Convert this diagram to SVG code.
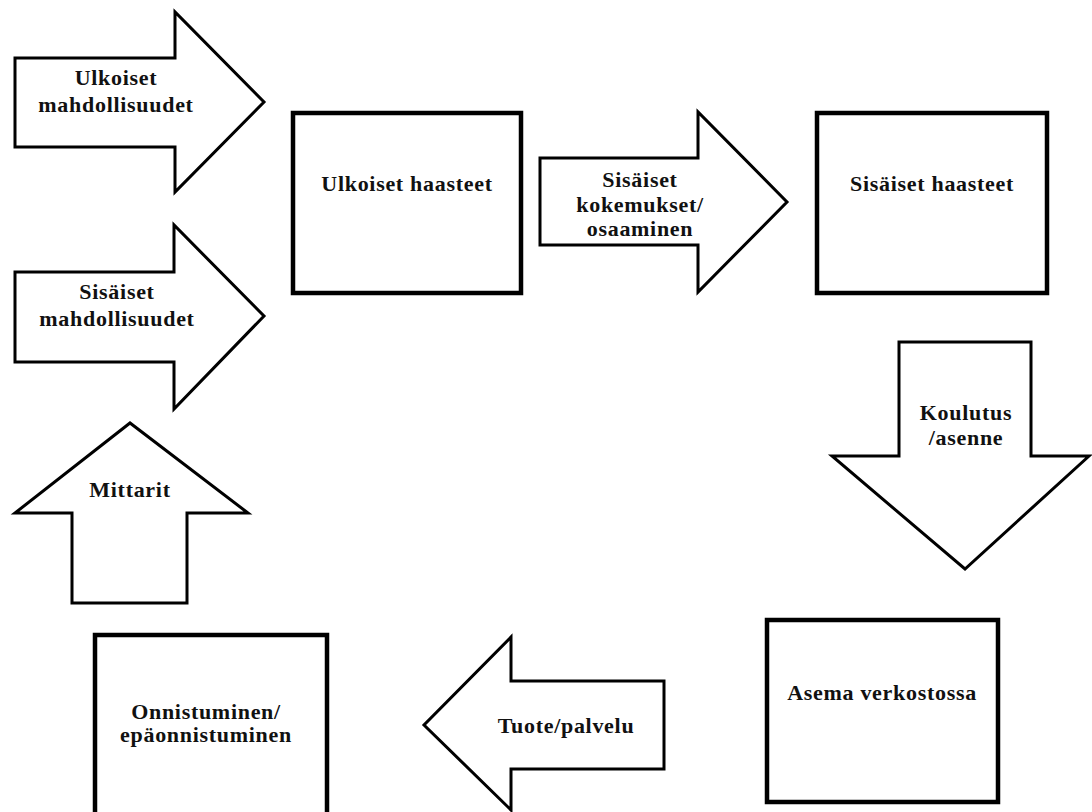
<svg xmlns="http://www.w3.org/2000/svg" width="1092" height="812" viewBox="0 0 1092 812">
  <style>
    .arrow { fill: #fff; stroke: #000; stroke-width: 3; stroke-linejoin: miter; }
    .box { fill: #fff; stroke: #000; stroke-width: 4.5; }
    .label { font-family: "Liberation Serif", "Times New Roman", serif; font-weight: bold; font-size: 22px; letter-spacing: 0.7px; fill: #111; text-anchor: middle; }
  </style>
  <rect width="1092" height="812" fill="#fff"/>

  <!-- block arrows -->
  <g id="connectors">
    <g id="arrow-ulkoiset-mahdollisuudet">
      <polygon class="arrow" points="15,58 175,58 175,12 264,102 175,192 175,147 15,147"/>
      <text class="label" x="116" y="85">Ulkoiset</text>
      <text class="label" x="116" y="112">mahdollisuudet</text>
    </g>
    <g id="arrow-sisaiset-mahdollisuudet">
      <polygon class="arrow" points="15,272 174,272 174,225 264,316 174,409 174,362 15,362"/>
      <text class="label" x="117" y="299">Sisäiset</text>
      <text class="label" x="117" y="326">mahdollisuudet</text>
    </g>
    <g id="arrow-kokemukset">
      <polygon class="arrow" points="540,158 698,158 698,112 787,202 698,292 698,245 540,245"/>
      <text class="label" x="640" y="187">Sisäiset</text>
      <text class="label" x="640" y="212">kokemukset/</text>
      <text class="label" x="640" y="236">osaaminen</text>
    </g>
    <g id="arrow-koulutus">
      <polygon class="arrow" points="899,342 1031,342 1031,456 1089,456 965,569 832,456 899,456"/>
      <text class="label" x="966" y="420">Koulutus</text>
      <text class="label" x="966" y="445">/asenne</text>
    </g>
    <g id="arrow-tuote">
      <polygon class="arrow" points="664,681 511,681 511,637 424,725 511,810 511,769 664,769"/>
      <text class="label" x="566" y="733">Tuote/palvelu</text>
    </g>
    <g id="arrow-mittarit">
      <polygon class="arrow" points="72,603 72,513 15,513 130,423 248,513 187,513 187,603"/>
      <text class="label" x="130" y="497">Mittarit</text>
    </g>
  </g>

  <!-- boxes -->
  <g id="ulkoiset-haasteet">
    <rect class="box" x="293" y="113" width="228" height="180"/>
    <text class="label" x="407" y="191">Ulkoiset haasteet</text>
  </g>
  <g id="sisaiset-haasteet">
    <rect class="box" x="817" y="113" width="230" height="180"/>
    <text class="label" x="932" y="191">Sisäiset haasteet</text>
  </g>
  <g id="asema-verkostossa">
    <rect class="box" x="767" y="620" width="231" height="182"/>
    <text class="label" x="882" y="700">Asema verkostossa</text>
  </g>
  <g id="onnistuminen">
    <rect class="box" x="95" y="635" width="232" height="200"/>
    <text class="label" x="206" y="719">Onnistuminen/</text>
    <text class="label" x="206" y="742">epäonnistuminen</text>
  </g>
</svg>
